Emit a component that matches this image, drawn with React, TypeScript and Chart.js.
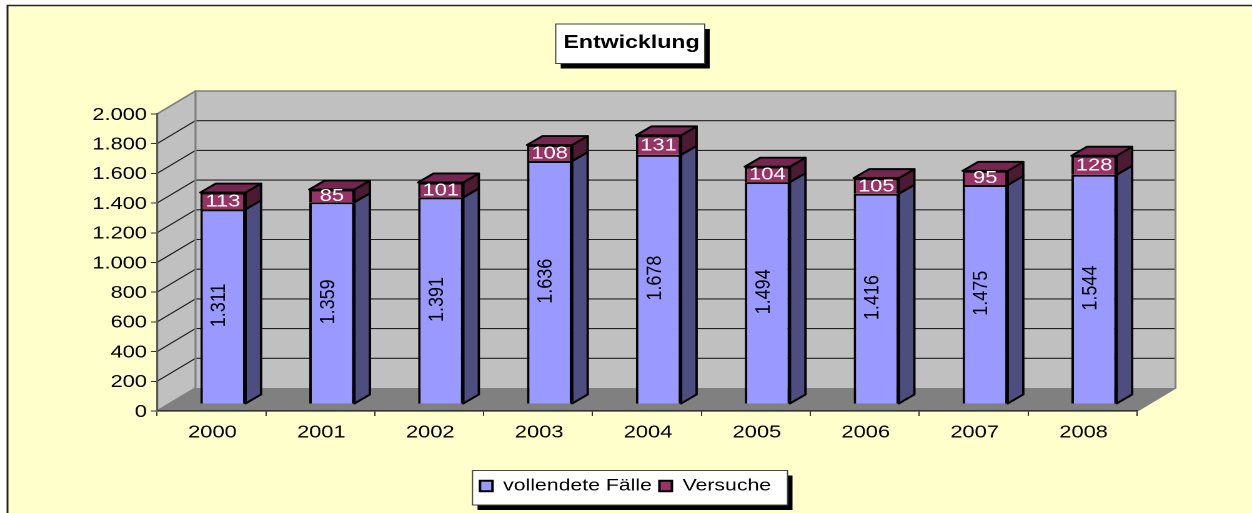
import React, { useEffect, useRef } from "react";
import { Chart, registerables } from "chart.js";

Chart.register(...registerables);

const categories = ["2000", "2001", "2002", "2003", "2004", "2005", "2006", "2007", "2008"];
const vollendeteFaelle = [1311, 1359, 1391, 1636, 1678, 1494, 1416, 1475, 1544];
const versuche = [113, 85, 101, 108, 131, 104, 105, 95, 128];

const LOGICAL_W = 1002;
const LOGICAL_H = 513;
const SX = 1252 / LOGICAL_W;
const px = (x: number) => x / SX;

const FONT = '"Liberation Sans", Arial, sans-serif';
const dotted = (v: number) => String(v).replace(/\B(?=(\d{3})+$)/g, ".");

const WALL_DX = px(38.5);
const WALL_DY = -23;
const BAR_SHIFT_X = px(11.5);
const BAR_SHIFT_Y = -7;
const BAR_DX = px(15.5);
const BAR_DY = -9;

function poly(ctx: CanvasRenderingContext2D, pts: number[][], fill: string, stroke?: string, lw = 1) {
  ctx.beginPath();
  pts.forEach(([x, y], i) => (i ? ctx.lineTo(x, y) : ctx.moveTo(x, y)));
  ctx.closePath();
  ctx.fillStyle = fill;
  ctx.fill();
  if (stroke) {
    ctx.strokeStyle = stroke;
    ctx.lineWidth = lw;
    ctx.lineJoin = "round";
    ctx.stroke();
  }
}

function shadowBox(ctx: CanvasRenderingContext2D, x0: number, y0: number, x1: number, y1: number) {
  ctx.fillStyle = "#000";
  ctx.fillRect(px(x0 + 5), y0 + 5, px(x1 - x0), y1 - y0);
  ctx.fillStyle = "#fff";
  ctx.fillRect(px(x0), y0, px(x1 - x0), y1 - y0);
  ctx.strokeStyle = "#444";
  ctx.lineWidth = 1;
  ctx.strokeRect(px(x0), y0, px(x1 - x0), y1 - y0);
}

const scene3d = {
  id: "scene3d",
  afterLayout(chart: any) {
    if (chart.titleBlock) {
      chart.titleBlock.left = 0;
      chart.titleBlock.right = px(631.5) * 2;
    }
    if (chart.legend) {
      chart.legend.left = px(480) - chart.legend.options.labels.padding;
      chart.legend.right = LOGICAL_W;
      chart.legend.top = 471.5;
    }
  },
  beforeDraw(chart: any) {
    const { ctx, chartArea: a, scales } = chart;
    const y = scales.y;
    ctx.save();
    // outer chart frame
    ctx.fillStyle = "#FFFFCC";
    ctx.fillRect(px(7), 5, LOGICAL_W + 10, LOGICAL_H + 10);
    ctx.strokeStyle = "#222";
    ctx.lineWidth = 1.5;
    ctx.strokeRect(px(7.5), 5.5, LOGICAL_W + 10, LOGICAL_H + 10);

    // walls and floor
    poly(ctx, [[a.left, a.top], [a.left + WALL_DX, a.top + WALL_DY], [a.left + WALL_DX, a.bottom + WALL_DY], [a.left, a.bottom]], "#C0C0C0");
    poly(ctx, [[a.left + WALL_DX, a.top + WALL_DY], [a.right + WALL_DX, a.top + WALL_DY], [a.right + WALL_DX, a.bottom + WALL_DY], [a.left + WALL_DX, a.bottom + WALL_DY]], "#C0C0C0");
    poly(ctx, [[a.left, a.bottom], [a.left + WALL_DX, a.bottom + WALL_DY], [a.right + WALL_DX, a.bottom + WALL_DY], [a.right, a.bottom]], "#808080");

    // grid lines following the y scale
    ctx.strokeStyle = "#222";
    ctx.lineWidth = 1.1;
    y.ticks.forEach((t: any) => {
      if (t.value === 0 || t.value === y.max) return;
      const p = y.getPixelForValue(t.value);
      ctx.beginPath();
      ctx.moveTo(a.left, p);
      ctx.lineTo(a.left + WALL_DX, p + WALL_DY);
      ctx.lineTo(a.right + WALL_DX, p + WALL_DY);
      ctx.stroke();
    });

    // wall edges
    ctx.strokeStyle = "#808080";
    ctx.lineWidth = 1.6;
    ctx.beginPath();
    ctx.moveTo(a.left, a.top);
    ctx.lineTo(a.left + WALL_DX, a.top + WALL_DY);
    ctx.lineTo(a.right + WALL_DX, a.top + WALL_DY);
    ctx.lineTo(a.right + WALL_DX, a.bottom + WALL_DY);
    ctx.lineTo(a.right, a.bottom);
    ctx.moveTo(a.left + WALL_DX, a.top + WALL_DY);
    ctx.lineTo(a.left + WALL_DX, a.bottom + WALL_DY);
    ctx.lineTo(a.left, a.bottom);
    ctx.stroke();

    // title and legend boxes
    shadowBox(ctx, 555.7, 24, 704.7, 63.5);
    shadowBox(ctx, 472.5, 470.5, 787.5, 505);
    ctx.restore();
  },
  beforeDatasetsDraw(chart: any) {
    const { ctx } = chart;
    ctx.save();
    ctx.translate(BAR_SHIFT_X, BAR_SHIFT_Y);
    const lower = chart.getDatasetMeta(0).data;
    const upper = chart.getDatasetMeta(1).data;
    lower.forEach((bar: any, i: number) => {
      const top = upper[i];
      const l = bar.x - bar.width / 2;
      const r = bar.x + bar.width / 2;
      const edge = "#000";
      poly(ctx, [[r, bar.base], [r + BAR_DX, bar.base + BAR_DY], [r + BAR_DX, bar.y + BAR_DY], [r, bar.y]], "#4D4D80", edge, 1.9);
      poly(ctx, [[r, bar.y], [r + BAR_DX, bar.y + BAR_DY], [r + BAR_DX, top.y + BAR_DY], [r, top.y]], "#4D1A33", edge, 1.9);
      poly(ctx, [[l, top.y], [l + BAR_DX, top.y + BAR_DY], [r + BAR_DX, top.y + BAR_DY], [r, top.y]], "#732650", edge, 1.9);
    });
    ctx.restore();
    ctx.save();
    ctx.translate(BAR_SHIFT_X, BAR_SHIFT_Y);
  },
  afterDatasetsDraw(chart: any) {
    const { ctx } = chart;
    ctx.restore();
    ctx.save();
    ctx.translate(BAR_SHIFT_X, BAR_SHIFT_Y);
    const lower = chart.getDatasetMeta(0).data;
    const upper = chart.getDatasetMeta(1).data;
    ctx.textAlign = "center";
    ctx.textBaseline = "middle";
    lower.forEach((bar: any, i: number) => {
      ctx.save();
      ctx.translate(bar.x - px(3.5), (bar.y + bar.base) / 2 - 1);
      ctx.scale(0.92, 1);
      ctx.rotate(-Math.PI / 2);
      ctx.fillStyle = "#000";
      ctx.font = `18px ${FONT}`;
      ctx.fillText(dotted(vollendeteFaelle[i]), 0, 0);
      ctx.restore();
      const top = upper[i];
      ctx.fillStyle = "#fff";
      ctx.font = `17.5px ${FONT}`;
      ctx.fillText(String(versuche[i]), top.x, (top.y + top.base) / 2 + 0.5);
    });
    ctx.restore();
  },
};

export default function App() {
  const ref = useRef<HTMLCanvasElement>(null);
  useEffect(() => {
    const chart = new Chart(ref.current as HTMLCanvasElement, {
      type: "bar",
      data: {
        labels: categories,
        datasets: [
          { label: "vollendete Fälle", data: vollendeteFaelle, backgroundColor: "#9999FF", borderColor: "#000", borderWidth: 2, stack: "a" },
          { label: "Versuche", data: versuche, backgroundColor: "#993366", borderColor: "#000", borderWidth: 2, stack: "a" },
        ],
      },
      plugins: [scene3d],
      options: {
        responsive: false,
        animation: false,
        devicePixelRatio: 2,
        layout: { padding: { left: 0, right: px(1252 - 1137), top: 0, bottom: 10 } },
        datasets: { bar: { categoryPercentage: 1, barPercentage: 0.415, clip: false } },
        scales: {
          x: {
            stacked: true,
            afterFit: (s: any) => { s.height = 59; },
            grid: { drawOnChartArea: false, drawTicks: true, tickLength: 5, color: "#333" },
            border: { color: "#333", width: 1.6 },
            ticks: { color: "#000", font: { family: FONT, size: 17.5 }, padding: 6, labelOffset: px(1), autoSkip: false, maxRotation: 0 },
          },
          y: {
            stacked: true,
            min: 0,
            max: 2000,
            afterFit: (s: any) => { s.width = px(157); },
            grid: { drawOnChartArea: false, drawTicks: true, tickLength: px(6), color: "#333" },
            border: { color: "#555", width: 1.6 },
            ticks: {
              stepSize: 200,
              color: "#000",
              font: { family: FONT, size: 17.5 },
              padding: px(4),
              labelOffset: 1,
              callback: (v: any) => dotted(Number(v)),
            },
          },
        },
        plugins: {
          tooltip: { enabled: false },
          title: {
            display: true,
            text: "Entwicklung",
            color: "#000",
            font: { family: FONT, size: 18.5, weight: "bold" },
            padding: { top: 32, bottom: 59.8 },
          },
          legend: {
            display: true,
            position: "bottom",
            align: "start",
            labels: {
              color: "#000",
              font: { family: FONT, size: 17 },
              boxWidth: px(12.5),
              boxHeight: 10.5,
              padding: 6,
            },
          },
        },
      },
    } as any);
    return () => chart.destroy();
  }, []);
  return (
    <div style={{ position: "absolute", left: 0, top: 0, width: 1252, height: 513, overflow: "hidden", background: "#fff" }}>
      <canvas
        ref={ref}
        width={LOGICAL_W}
        height={LOGICAL_H}
        style={{ display: "block", transformOrigin: "0 0", transform: `scaleX(${SX})` }}
      />
    </div>
  );
}
